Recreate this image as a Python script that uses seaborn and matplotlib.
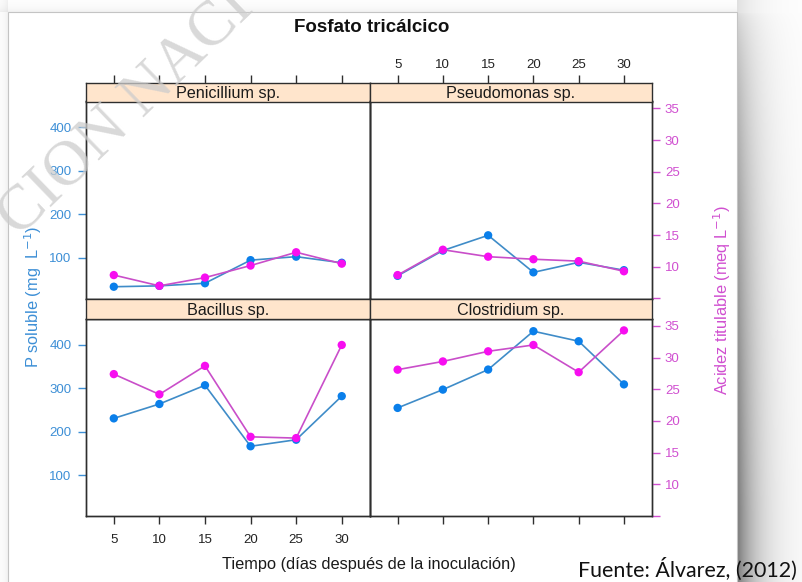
import numpy as np
import matplotlib
matplotlib.use("Agg")
import matplotlib.pyplot as plt
from matplotlib.patches import Rectangle
import pandas as pd
import seaborn as sns

# ---- data -------------------------------------------------------------
dias = [5, 10, 15, 20, 25, 30]
organismos = ["Penicillium sp.", "Pseudomonas sp.", "Bacillus sp.", "Clostridium sp."]

p_penicillium = [34, 36, 42, 95, 103, 89]
p_pseudomonas = [59, 117, 152, 67, 90, 72]
p_bacillus = [231, 264, 307, 167, 182, 282]
p_clostridium = [255, 297, 343, 431, 408, 309]

acidez_penicillium = [8.7, 7.0, 8.3, 10.2, 12.3, 10.5]
acidez_pseudomonas = [8.7, 12.7, 11.6, 11.2, 10.9, 9.3]
acidez_bacillus = [27.4, 24.2, 28.7, 17.5, 17.3, 32.0]
acidez_clostridium = [28.1, 29.4, 31.0, 32.0, 27.7, 34.3]

ticks_p = [100, 200, 300, 400]
ticks_acidez = [5, 10, 15, 20, 25, 30, 35]
labels_acidez = ["", "10", "15", "20", "25", "30", "35"]

p_series = [p_penicillium, p_pseudomonas, p_bacillus, p_clostridium]
acidez_series = [acidez_penicillium, acidez_pseudomonas, acidez_bacillus, acidez_clostridium]

df = pd.concat(
    [pd.DataFrame({"organismo": org, "dia": dias, "p": p, "acidez": a})
     for org, p, a in zip(organismos, p_series, acidez_series)],
    ignore_index=True,
)

# ---- style ------------------------------------------------------------
sns.set_style("white")
plt.rcParams["font.family"] = ["Liberation Sans", "DejaVu Sans"]

W, H = 803, 582
fig = plt.figure(figsize=(W / 100, H / 100), dpi=100)

BLUE_PT = "#0a7fea"
BLUE_LN = "#3f8cc8"
BLUE_TXT = "#3d8fd6"
MAG_PT = "#f70ef0"
MAG_LN = "#c94ec9"
MAG_TXT = "#d04fd0"
FRAME = "#2e2e2e"
STRIP = "#ffe5cc"


def px_axes(x0, y0, x1, y1, **kw):
    return fig.add_axes([x0 / W, 1 - y1 / H, (x1 - x0) / W, (y1 - y0) / H], **kw)


# ---- page background with a soft drop shadow -------------------------
yy, xx = np.mgrid[0:H, 0:W].astype(float)
shade = np.zeros((H, W))
card_l, card_t, card_r = 8, 12, 737
strength = 0.12 + 0.40 * np.clip((yy - card_t) / 500, 0, 1) ** 0.5
right = (xx >= card_r)
shade += np.where(right, strength * np.exp(-(xx - card_r) / 22), 0)
shade += np.where(xx < card_l, 0.06 * np.exp(-(card_l - xx) / 5), 0)
shade += np.where((yy < card_t) & (xx < card_r), 0.06 * np.exp(-(card_t - yy) / 5), 0)
bg = np.clip(1 - shade, 0, 1)
bg_rgb = np.dstack([bg, bg, bg])

bg_ax = fig.add_axes([0, 0, 1, 1], zorder=-10)
bg_ax.imshow(bg_rgb, extent=(0, W, H, 0), aspect="auto", interpolation="bilinear")
bg_ax.set_xlim(0, W)
bg_ax.set_ylim(H, 0)
bg_ax.axis("off")
bg_ax.add_patch(Rectangle((card_l, card_t), card_r - card_l, H, facecolor="white",
                          edgecolor="#c4c4c4", lw=0.8))

# ---- panels -----------------------------------------------------------
cols = [(86, 370), (370, 652)]
rows = [((83, 101.5), (101.5, 298.5)), ((298.5, 319), (319, 516))]
xlim = (1.95, 33.1)
ylim_p = (7, 459)
ylim_a = (5, 36.1)

for i, org in enumerate(organismos):
    r, c = divmod(i, 2)
    x0, x1 = cols[c]
    (s0, s1), (p0, p1) = rows[r]
    sub = df[df["organismo"] == org]

    ax = px_axes(x0, p0, x1, p1)
    ax.set_facecolor("none")
    sns.lineplot(data=sub, x="dia", y="p", ax=ax, color=BLUE_LN, lw=1.2, zorder=2)
    sns.scatterplot(data=sub, x="dia", y="p", ax=ax, color=BLUE_PT, s=36,
                    edgecolor="none", zorder=3)
    ax.set_xlim(*xlim)
    ax.set_ylim(*ylim_p)
    ax.set_xlabel("")
    ax.set_ylabel("")

    ax2 = ax.twinx()
    sns.lineplot(data=sub, x="dia", y="acidez", ax=ax2, color=MAG_LN, lw=1.2, zorder=2)
    sns.scatterplot(data=sub, x="dia", y="acidez", ax=ax2, color=MAG_PT, s=36,
                    edgecolor="none", zorder=3)
    ax2.set_ylim(*ylim_a)
    ax2.set_ylabel("")
    ax2.set_xlabel("")

    for a in (ax, ax2):
        for sp in a.spines.values():
            sp.set_color(FRAME)
            sp.set_linewidth(1.0)
            sp.set_visible(True)

    # left axis: P soluble
    ax.set_yticks(ticks_p)
    if c == 0:
        ax.tick_params(axis="y", left=True, labelleft=True, right=False, labelright=False,
                       direction="out", length=5.8, width=1.0, pad=4.5,
                       color=BLUE_TXT, labelcolor=BLUE_TXT, labelsize=9.5)
    else:
        ax.tick_params(axis="y", left=False, labelleft=False, right=False, labelright=False)

    # right axis: acidez titulable
    ax2.set_yticks(ticks_acidez)
    ax2.set_yticklabels(labels_acidez)
    if c == 1:
        ax2.tick_params(axis="y", right=True, labelright=True, left=False, labelleft=False,
                        direction="out", length=5.8, width=1.0, pad=3.5,
                        color=MAG_TXT, labelcolor=MAG_TXT, labelsize=9.5)
    else:
        ax2.tick_params(axis="y", right=False, labelright=False, left=False, labelleft=False)

    # x axis
    ax.set_xticks(dias)
    if r == 1:
        ax.tick_params(axis="x", bottom=True, labelbottom=(c == 0), top=False, labeltop=False,
                       direction="out", length=5.5, width=1.0, pad=7.5,
                       color=FRAME, labelcolor="#222222", labelsize=9.5)
    else:
        ax.tick_params(axis="x", bottom=False, labelbottom=False, top=False, labeltop=False)
    ax2.tick_params(axis="x", bottom=False, labelbottom=False, top=False, labeltop=False)

    # strip with the organism name
    sax = px_axes(x0, s0, x1, s1)
    sax.set_facecolor(STRIP)
    sax.set_xlim(*xlim)
    sax.set_ylim(0, 1)
    sax.set_yticks([])
    for sp in sax.spines.values():
        sp.set_color(FRAME)
        sp.set_linewidth(1.0)
        sp.set_visible(True)
    sax.text(0.5, 0.42, org, transform=sax.transAxes, ha="center", va="center",
             fontsize=11.6, color="#1a1a1a")
    if r == 0:
        sax.set_xticks(dias)
        sax.tick_params(axis="x", top=True, labeltop=(c == 1), bottom=False, labelbottom=False,
                        direction="out", length=5.8, width=1.0, pad=2.5,
                        color=FRAME, labelcolor="#222222", labelsize=9.5)
    else:
        sax.set_xticks([])

# ---- titles and axis labels ------------------------------------------
fig.text(372 / W, 1 - 28 / H, "Fosfato tricálcico", ha="center", va="center",
         fontsize=13.5, fontweight="bold", color="#111111")
fig.text(369 / W, 1 - 565 / H, "Tiempo (días después de la inoculación)", ha="center",
         va="center", fontsize=11.8, color="#1a1a1a")
fig.text(33 / W, 1 - 297 / H, "P soluble (mg  L$^{-1}$)", ha="center", va="center",
         rotation=90, fontsize=11.8, color=BLUE_TXT)
fig.text(722 / W, 1 - 300 / H, "Acidez titulable (meq L$^{-1}$)", ha="center", va="center",
         rotation=90, fontsize=11.8, color=MAG_TXT)

fig.text(578 / W, 1 - 577 / H, "Fuente: Álvarez, (2012)", ha="left", va="baseline",
         fontsize=15.4, family=["Lato", "DejaVu Sans"], color="#111111")

# faint diagonal watermark across the upper-left corner
fig.text(126 / W, 1 - 113 / H, "CION NACI", ha="center", va="center", rotation=44,
         rotation_mode="anchor", fontsize=46, family=["Liberation Serif", "DejaVu Serif"],
         color="#cccccc", alpha=0.75, zorder=20)

fig.savefig("out.png", dpi=100)
